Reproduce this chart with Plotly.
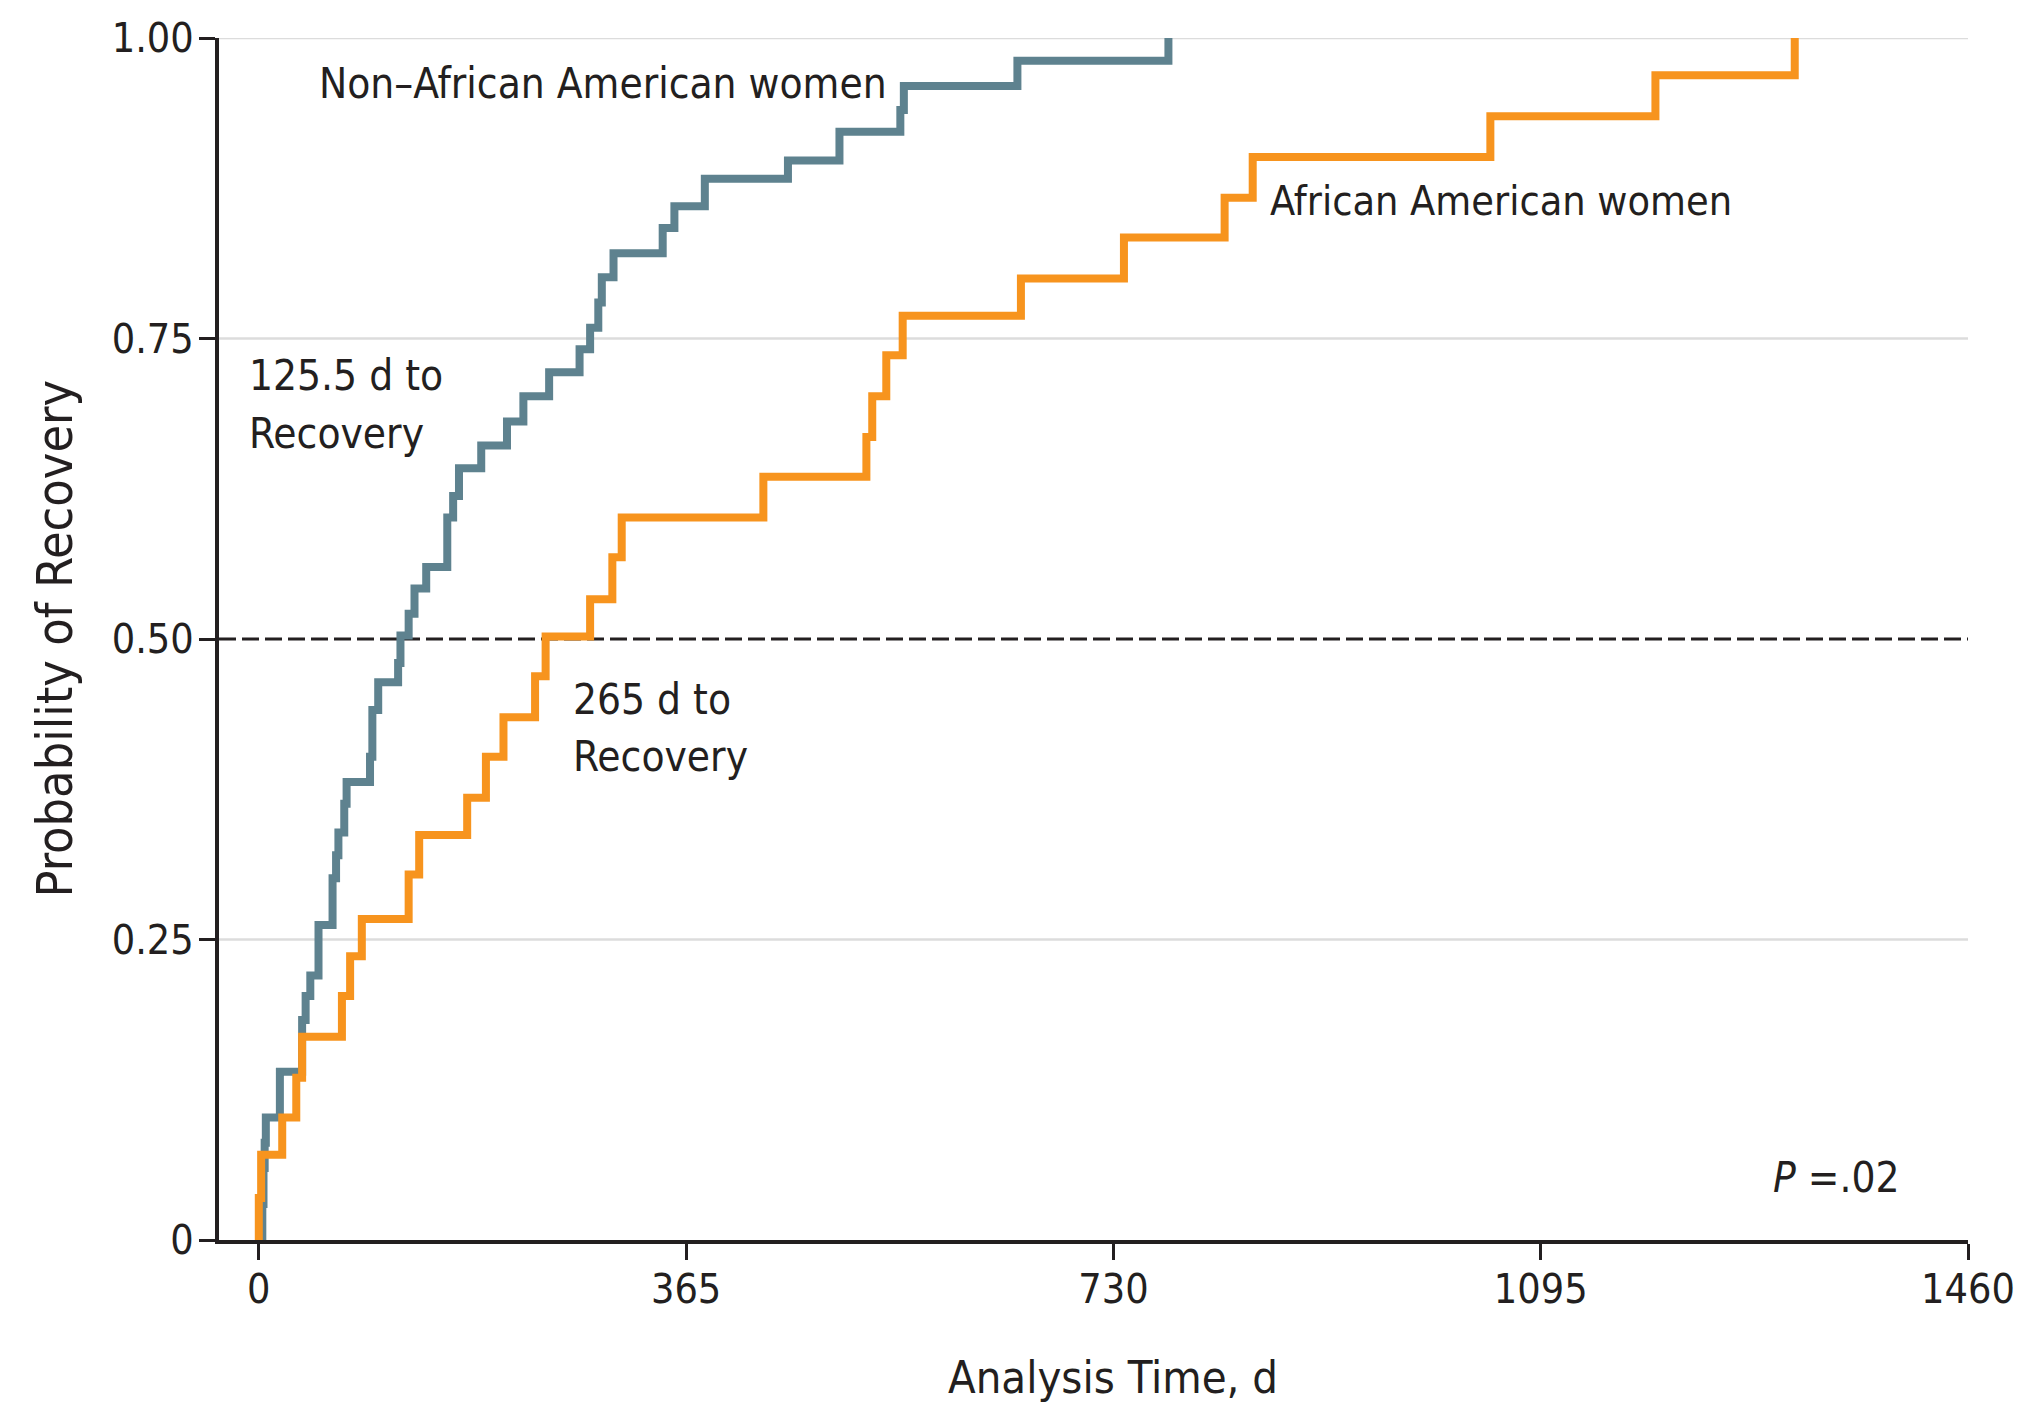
import plotly.graph_objects as go

# Kaplan-Meier cumulative probability of recovery by group
non_aa_days = [0, 3, 4, 5, 6, 18, 37, 40, 44, 51,
               63, 66, 68, 73, 75, 95, 97, 102, 119, 121,
               128, 133, 143, 161, 166, 171, 190, 212, 226, 248,
               274, 283, 290, 293, 303, 345, 355, 381, 452, 496,
               548, 551, 648, 777]
non_aa_prob = [0, 0.03, 0.06, 0.081, 0.102, 0.140, 0.183, 0.203, 0.220, 0.262,
               0.301, 0.320, 0.339, 0.363, 0.381, 0.402, 0.441, 0.464, 0.480, 0.503,
               0.521, 0.542, 0.560, 0.601, 0.619, 0.642, 0.661, 0.681, 0.702, 0.722,
               0.741, 0.759, 0.780, 0.801, 0.821, 0.842, 0.860, 0.883, 0.898, 0.922,
               0.940, 0.960, 0.981, 1.0]

aa_days = [0, 0, 2, 20, 32, 37, 71, 78, 88, 128,
           137, 178, 194, 209, 236, 245, 283, 302, 310, 431,
           519, 524, 536, 550, 651, 739, 825, 849, 1052, 1193, 1312]
aa_prob = [0, 0.035, 0.071, 0.102, 0.135, 0.169, 0.203, 0.236, 0.267, 0.304,
           0.337, 0.368, 0.402, 0.435, 0.469, 0.502, 0.533, 0.568, 0.601, 0.635,
           0.668, 0.702, 0.736, 0.769, 0.800, 0.834, 0.867, 0.901, 0.935, 0.969, 1.0]

x_ticks = [0, 365, 730, 1095, 1460]
y_ticks = [0, 0.25, 0.5, 0.75, 1.0]
y_tick_text = ["0", "0.25", "0.50", "0.75", "1.00"]
grid_levels = [0.25, 0.75, 1.0]
median_level = 0.5

FONT = "DejaVu Sans Condensed, Liberation Sans Narrow, sans-serif"
INK = "#231F20"
GRAY = "#5E828F"
ORANGE = "#F7941E"

fig = go.Figure()
fig.add_trace(go.Scatter(x=non_aa_days, y=non_aa_prob, mode="lines",
                         line=dict(color=GRAY, width=8, shape="hv"),
                         showlegend=False))
fig.add_trace(go.Scatter(x=aa_days, y=aa_prob, mode="lines",
                         line=dict(color=ORANGE, width=8, shape="hv"),
                         showlegend=False))

shapes = []
for g in grid_levels:
    shapes.append(dict(type="line", xref="paper", yref="y", x0=0, x1=1, y0=g, y1=g,
                       line=dict(color="#DCDCDC", width=2.5), layer="below"))
shapes.append(dict(type="line", xref="paper", yref="y", x0=0, x1=1,
                   y0=median_level, y1=median_level,
                   line=dict(color=INK, width=3, dash="17px,6px"), layer="below"))


def label(text, x, y, xanchor="left", size=42, **kw):
    return dict(text=text, x=x, y=y, xref="x", yref="y", xanchor=xanchor,
                yanchor="middle", showarrow=False,
                font=dict(family=FONT, size=size, color=INK), **kw)


annotations = [
    label("Non–African American women", 49.5, 0.962),
    label("African American women", 862, 0.864, size=41),
    label("125.5 d to", -10, 0.719),
    label("Recovery", -10, 0.671),
    label("265 d to", 266.5, 0.450),
    label("Recovery", 266.5, 0.402),
    label("<i>P</i> =.02", 1292, 0.052),
    dict(text="Analysis Time, d", x=0.511, y=-0.114, xref="paper", yref="paper",
         xanchor="center", yanchor="middle", showarrow=False,
         font=dict(family=FONT, size=45, color=INK)),
    dict(text="Probability of Recovery", x=-0.094, y=0.5, xref="paper", yref="paper",
         xanchor="center", yanchor="middle", showarrow=False, textangle=-90,
         font=dict(family=FONT, size=50, color=INK)),
]

axis_common = dict(showline=True, linecolor=INK, linewidth=4, ticks="outside",
                   ticklen=16, tickwidth=3, tickcolor=INK, showgrid=False,
                   zeroline=False, tickfont=dict(family=FONT, size=41, color=INK))

fig.update_layout(
    width=2030, height=1405,
    margin=dict(l=219, r=62, t=38, b=165),
    paper_bgcolor="white", plot_bgcolor="white",
    xaxis=dict(range=[-34, 1460], tickvals=x_ticks, ticklabelstandoff=-6, **axis_common),
    yaxis=dict(range=[0, 1], tickvals=y_ticks, ticktext=y_tick_text,
               ticklabelstandoff=-3, **axis_common),
    shapes=shapes,
    annotations=annotations,
)

fig.write_html("out.html")
